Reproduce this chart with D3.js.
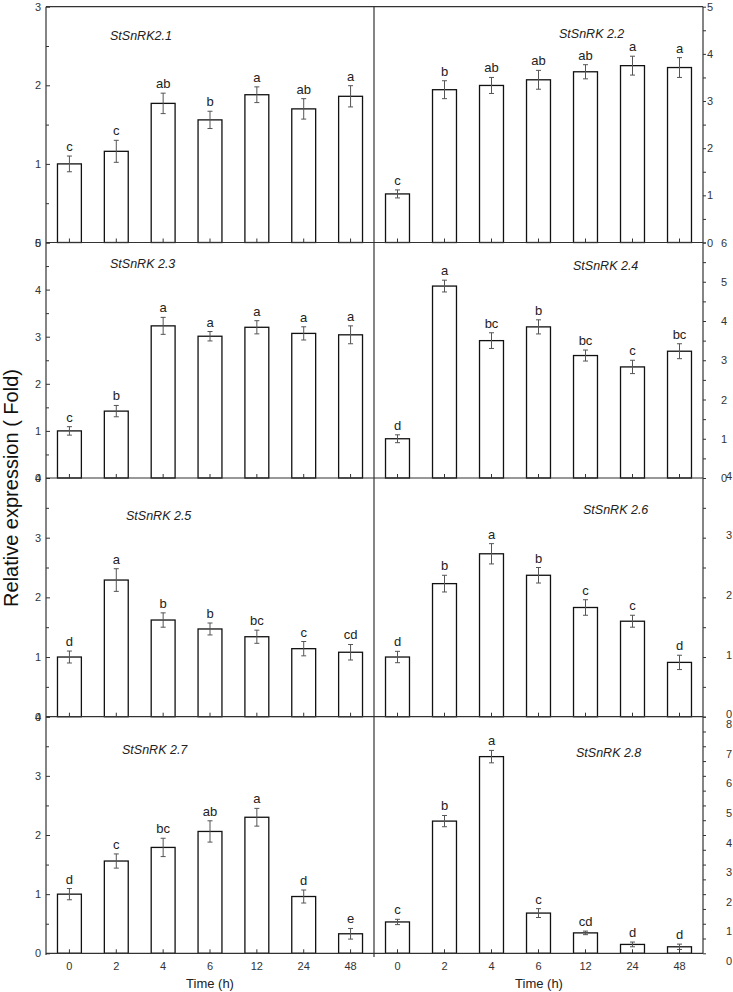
<!DOCTYPE html>
<html>
<head>
<meta charset="utf-8">
<script src="https://cdn.jsdelivr.net/npm/d3@7"></script>
<style>
  html, body { margin: 0; padding: 0; background: #fff; }
  svg { display: block; font-family: "Liberation Sans", Arial, sans-serif; }
</style>
</head>
<body>
<svg id="chart" width="733" height="992"></svg>
<script>
// ---------- data ----------
const times = ["0", "2", "4", "6", "12", "24", "48"];
const genes = ["StSnRK2.1", "StSnRK 2.2", "StSnRK 2.3", "StSnRK 2.4",
               "StSnRK 2.5", "StSnRK  2.6", "StSnRK 2.7", "StSnRK  2.8"];
const yMaxes = [3, 5, 5, 6, 4, 4, 4, 8];

const mean21 = [1.00, 1.16, 1.77, 1.56, 1.88, 1.70, 1.86];
const err21  = [0.10, 0.14, 0.13, 0.11, 0.10, 0.13, 0.135];
const let21  = ["c", "c", "ab", "b", "a", "ab", "a"];

const mean22 = [1.03, 3.24, 3.33, 3.45, 3.62, 3.75, 3.71];
const err22  = [0.085, 0.19, 0.17, 0.20, 0.15, 0.20, 0.21];
const let22  = ["c", "b", "ab", "ab", "ab", "a", "a"];

const mean23 = [1.00, 1.42, 3.23, 3.01, 3.20, 3.07, 3.04];
const err23  = [0.09, 0.12, 0.18, 0.10, 0.14, 0.14, 0.19];
const let23  = ["c", "b", "a", "a", "a", "a", "a"];

const mean24 = [1.00, 4.89, 3.50, 3.85, 3.12, 2.83, 3.23];
const err24  = [0.10, 0.15, 0.20, 0.18, 0.14, 0.17, 0.19];
const let24  = ["d", "a", "bc", "b", "bc", "c", "bc"];

const mean25 = [1.00, 2.29, 1.62, 1.47, 1.34, 1.14, 1.08];
const err25  = [0.10, 0.19, 0.12, 0.10, 0.11, 0.12, 0.13];
const let25  = ["d", "a", "b", "b", "bc", "c", "cd"];

const mean26 = [1.00, 2.23, 2.73, 2.37, 1.83, 1.60, 0.91];
const err26  = [0.095, 0.14, 0.17, 0.13, 0.13, 0.10, 0.12];
const let26  = ["d", "b", "a", "b", "c", "c", "d"];

const mean27 = [1.00, 1.56, 1.79, 2.06, 2.30, 0.96, 0.33];
const err27  = [0.095, 0.12, 0.155, 0.18, 0.15, 0.11, 0.09];
const let27  = ["d", "c", "bc", "ab", "a", "d", "e"];

const mean28 = [1.06, 4.47, 6.65, 1.36, 0.69, 0.30, 0.22];
const err28  = [0.09, 0.19, 0.21, 0.15, 0.06, 0.08, 0.09];
const let28  = ["c", "b", "a", "c", "cd", "d", "d"];

const means = [mean21, mean22, mean23, mean24, mean25, mean26, mean27, mean28];
const errs = [err21, err22, err23, err24, err25, err26, err27, err28];
const lets = [let21, let22, let23, let24, let25, let26, let27, let28];

// ---------- layout ----------
const svg = d3.select("#chart");
const colX = [[46, 374], [374, 703]];
const rowY = [6.7, 242.5, 478, 716.7, 953.3];
const rightPad = [1, 15, 20, 20];      // label offsets for right axes (per row)
const rightDy  = [0, 0, -2.5, 7.5];
const titlePos = [[110, 40], [559, 38], [110, 268], [573, 270],
                  [126, 520], [583, 514], [122, 754], [576, 757]];
const axisColor = "#333";

genes.forEach((gene, i) => {
  const col = i % 2, row = Math.floor(i / 2);
  const x = d3.scaleBand().domain(times).range(colX[col])
              .paddingInner(0.49).paddingOuter(0.245);
  const y = d3.scaleLinear().domain([0, yMaxes[i]]).range([rowY[row + 1], rowY[row]]);
  const g = svg.append("g");
  const rows = times.map((t, k) => ({t, m: means[i][k], e: errs[i][k], l: lets[i][k]}));

  // bars
  g.selectAll("rect.bar").data(rows).join("rect")
    .attr("class", "bar")
    .attr("x", d => x(d.t)).attr("width", x.bandwidth())
    .attr("y", d => y(d.m)).attr("height", d => y(0) - y(d.m))
    .attr("fill", "#fff").attr("stroke", "#111").attr("stroke-width", 1.3);

  // x ticks (inward, at bar centres)
  g.selectAll("line.xt").data(rows).join("line")
    .attr("x1", d => x(d.t) + x.bandwidth() / 2).attr("x2", d => x(d.t) + x.bandwidth() / 2)
    .attr("y1", y(0)).attr("y2", y(0) - 4)
    .attr("stroke", axisColor).attr("stroke-width", 1);

  // error bars
  const eb = g.selectAll("g.eb").data(rows).join("g")
    .attr("transform", d => `translate(${x(d.t) + x.bandwidth() / 2},0)`);
  eb.append("line").attr("y1", d => y(d.m + d.e)).attr("y2", d => y(d.m - d.e))
    .attr("stroke", "#555").attr("stroke-width", 1);
  eb.append("line").attr("x1", -2.5).attr("x2", 2.5)
    .attr("y1", d => y(d.m + d.e)).attr("y2", d => y(d.m + d.e))
    .attr("stroke", "#555").attr("stroke-width", 1);
  eb.append("line").attr("x1", -2.5).attr("x2", 2.5)
    .attr("y1", d => y(d.m - d.e)).attr("y2", d => y(d.m - d.e))
    .attr("stroke", "#555").attr("stroke-width", 1);
  eb.append("text").attr("y", d => y(d.m + d.e) - 5)
    .attr("text-anchor", "middle").attr("font-size", 13).attr("fill", "#222")
    .text(d => d.l);

  // title
  g.append("text").attr("x", titlePos[i][0]).attr("y", titlePos[i][1])
    .attr("font-size", 12.5).attr("font-style", "italic").attr("fill", "#222")
    .text(gene);

  // y axes
  const ticks = d3.range(0, yMaxes[i] + 1);
  const minors = d3.range(0.5, yMaxes[i], 1);
  if (col === 0) {
    const ax = g.append("g").attr("transform", `translate(${colX[0][0]},0)`)
      .call(d3.axisLeft(y).tickValues(ticks).tickFormat(d3.format("d"))
             .tickSizeInner(-4).tickSizeOuter(0).tickPadding(5));
    ax.select(".domain").remove();
    ax.selectAll("line").attr("stroke", axisColor);
    ax.selectAll("text").attr("font-size", 11).attr("fill", "#333")
      .attr("font-family", "Liberation Sans, Arial, sans-serif");
    const mn = g.append("g").attr("transform", `translate(${colX[0][0]},0)`)
      .call(d3.axisLeft(y).tickValues(minors).tickFormat("").tickSizeInner(-3).tickSizeOuter(0));
    mn.select(".domain").remove();
    mn.selectAll("line").attr("stroke", axisColor);
  } else {
    const ax = g.append("g").attr("transform", `translate(${colX[1][1]},0)`)
      .call(d3.axisRight(y).tickValues(ticks).tickFormat(d3.format("d"))
             .tickSizeInner(3).tickSizeOuter(0).tickPadding(rightPad[row]));
    ax.select(".domain").remove();
    ax.selectAll("line").attr("stroke", axisColor);
    ax.selectAll("text").attr("font-size", 11).attr("fill", "#333")
      .attr("font-family", "Liberation Sans, Arial, sans-serif")
      .attr("dy", (0.32 * 11 + rightDy[row]) + "px");
    const mn = g.append("g").attr("transform", `translate(${colX[1][1]},0)`)
      .call(d3.axisRight(y).tickValues(minors).tickFormat("").tickSizeInner(3).tickSizeOuter(0));
    mn.select(".domain").remove();
    mn.selectAll("line").attr("stroke", axisColor);
  }

  // bottom time labels
  if (row === 3) {
    const xa = g.append("g").attr("transform", `translate(0,${rowY[4]})`)
      .call(d3.axisBottom(x).tickSize(0).tickPadding(9));
    xa.select(".domain").remove();
    xa.selectAll("text").attr("font-size", 11).attr("fill", "#333")
      .attr("font-family", "Liberation Sans, Arial, sans-serif");
    g.append("text").attr("x", (colX[col][0] + colX[col][1]) / 2 + (col === 0 ? 0 : 0.5))
      .attr("y", 988).attr("text-anchor", "middle")
      .attr("font-size", 13).attr("fill", "#222").text("Time (h)");
  }
});

// frame lines
const frame = svg.append("g").attr("stroke", axisColor).attr("stroke-width", 1.2);
rowY.forEach(yy => frame.append("line").attr("x1", 46).attr("x2", 703).attr("y1", yy).attr("y2", yy));
frame.append("line").attr("x1", 46).attr("x2", 46).attr("y1", rowY[0]).attr("y2", 955);
frame.append("line").attr("x1", 374).attr("x2", 374).attr("y1", rowY[0]).attr("y2", 957);
frame.append("line").attr("x1", 703).attr("x2", 703).attr("y1", rowY[0]).attr("y2", rowY[4]);

// y label
svg.append("text").attr("transform", "translate(18,488) rotate(-90)")
  .attr("text-anchor", "middle").attr("font-size", 20).attr("fill", "#111")
  .text("Relative expression ( Fold)");
</script>
</body>
</html>
